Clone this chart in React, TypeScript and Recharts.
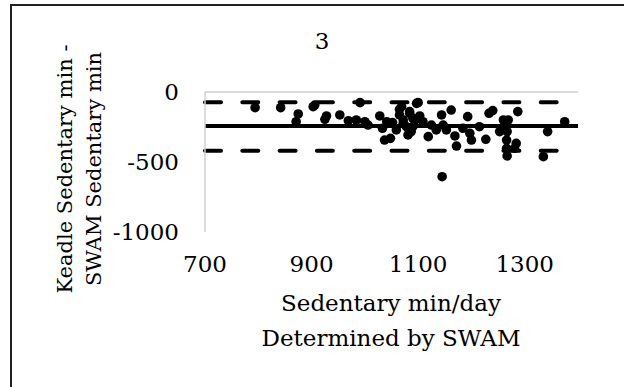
import React from 'react';
import {
  ScatterChart,
  Scatter,
  XAxis,
  YAxis,
  ReferenceLine,
} from 'recharts';

// SWAM sedentary min/day (x) vs Keadle - SWAM difference (y)
const swamMinutes = [
  794, 842, 875, 871, 903, 906, 928, 925, 953, 969, 984, 991, 1000, 1006, 1028, 1033, 1037,
  1048, 1052, 1065, 1065, 1059, 1084, 1090, 1084, 1097, 1094, 1041, 1072, 1081, 1100, 1069,
  1100, 1084, 1090, 1103, 1078, 1087, 1109, 1119, 1125, 1134, 1144, 1147, 1153, 1162, 1169,
  1172, 1145, 1184, 1193, 1197, 1200, 1215, 1227, 1233, 1240, 1253, 1260, 1264, 1269, 1267,
  1266, 1266, 1267, 1284, 1281, 1287, 1335, 1343, 1375, 1072,
];
const diffMinutes = [
  -112, -112, -157, -212, -105, -93, -171, -195, -164, -205, -200, -76, -212, -236, -171,
  -259, -343, -331, -219, -124, -164, -271, -152, -248, -283, -81, -200, -212, -224, -307,
  -188, -105, -76, -140, -188, -171, -248, -283, -212, -319, -236, -271, -164, -236, -271,
  -129, -314, -386, -605, -259, -176, -295, -343, -248, -338, -152, -133, -283, -200, -236,
  -200, -283, -343, -402, -457, -367, -402, -140, -462, -283, -212, -200,
];

const meanDiff = -243;
const upperLimit = -74;
const lowerLimit = -420;

const xTicks = [700, 900, 1100, 1300];
const yTicks = [-1000, -500, 0];

const points = swamMinutes.map((x, i) => ({ x, y: diffMinutes[i] }));

const font = 'DejaVu Serif';
const tickStyle = { fontSize: 23, fill: '#000', fontFamily: font };
const textStyle = { fontFamily: font, fontSize: 23 };
const yTitleStyle = { fontFamily: font, fontSize: 21 };

const Dot = (props: any) => <circle cx={props.cx} cy={props.cy} r={4.8} fill="#000" />;

export default function App() {
  return (
    <div
      style={{
        position: 'absolute',
        left: 0,
        top: 0,
        width: 624,
        height: 387,
        overflow: 'hidden',
        background: '#fff',
        fontFamily: font,
      }}
    >
      <div
        style={{
          position: 'absolute',
          left: 10,
          top: 4,
          width: 700,
          height: 500,
          borderTop: '2px solid #222',
          borderLeft: '2px solid #222',
        }}
      />
      <ScatterChart
        width={624}
        height={387}
        margin={{ top: 92, right: 46, bottom: 125, left: 0 }}
        style={{ position: 'absolute', left: 0, top: 0, fontFamily: font }}
      >
        <XAxis
          type="number"
          dataKey="x"
          domain={[700, 1400]}
          ticks={xTicks}
          height={30}
          axisLine={false}
          tickLine={false}
          tickSize={0}
          tickMargin={24}
          tick={tickStyle}
          interval={0}
        />
        <YAxis
          type="number"
          dataKey="y"
          domain={[-1000, 0]}
          ticks={yTicks}
          width={205}
          axisLine={{ stroke: '#d0d0d0', strokeWidth: 1.5 }}
          tickLine={false}
          tickSize={0}
          tickMargin={26}
          tick={tickStyle}
          interval={0}
        />
        <ReferenceLine y={0} stroke="#d0d0d0" strokeWidth={1.5} />
        <ReferenceLine
          y={upperLimit}
          stroke="#000"
          strokeWidth={4}
          strokeDasharray="16 21.3"
          strokeLinecap="round"
        />
        <ReferenceLine
          y={lowerLimit}
          stroke="#000"
          strokeWidth={4}
          strokeDasharray="16 21.3"
          strokeLinecap="round"
        />
        <ReferenceLine y={meanDiff} stroke="#000" strokeWidth={4} />
        <Scatter data={points} shape={<Dot />} isAnimationActive={false} />
      </ScatterChart>
      <svg
        width={624}
        height={387}
        style={{ position: 'absolute', left: 0, top: 0, pointerEvents: 'none' }}
      >
        <text x={322} y={49} textAnchor="middle" style={textStyle}>
          3
        </text>
        <g transform="translate(72 169) rotate(-90)">
          <text x={0} y={0} textAnchor="middle" style={yTitleStyle}>
            Keadle Sedentary min -
          </text>
          <text x={0} y={29} textAnchor="middle" style={yTitleStyle}>
            SWAM Sedentary min
          </text>
        </g>
        <text x={391} y={311} textAnchor="middle" style={textStyle}>
          Sedentary min/day
        </text>
        <text x={391} y={346} textAnchor="middle" style={textStyle}>
          Determined by SWAM
        </text>
      </svg>
    </div>
  );
}
